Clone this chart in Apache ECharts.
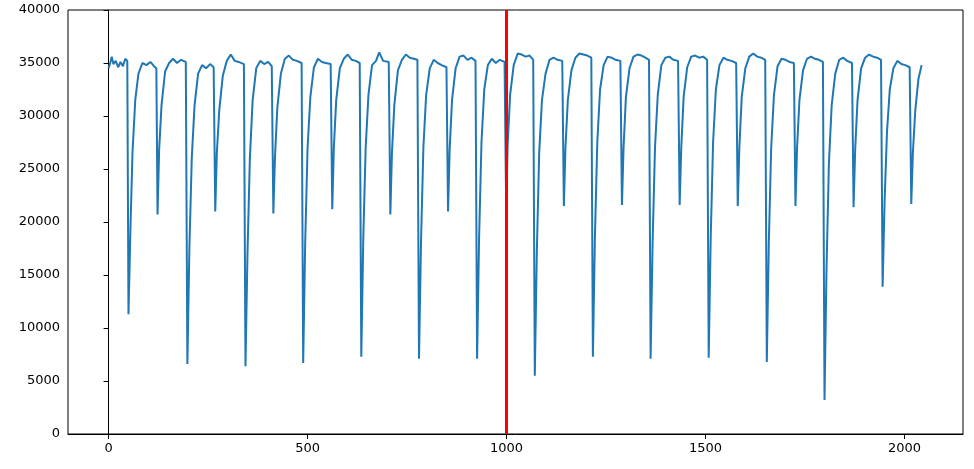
<!DOCTYPE html>
<html>
<head>
<meta charset="utf-8">
<script src="https://cdn.jsdelivr.net/npm/echarts@6/dist/echarts.min.js"></script>
<style>html,body{margin:0;padding:0;background:#fff}#main{width:974px;height:469px}</style>
</head>
<body>
<div id="main"></div>
<script>
// 信号数据
const xValues = [0,4,8,12,18,24,30,36,42,47,
50,55,60,67,75,85,95,105,114,120,
123,127,133,142,152,162,172,182,194,
198,203,209,216,225,235,245,255,264,
268,272,278,287,297,307,317,327,340,
344,349,355,362,371,381,391,401,410,
414,418,424,433,443,453,463,473,485,
489,494,500,507,516,526,536,546,558,
562,566,572,581,591,601,611,621,631,
635,640,646,653,662,672,680,690,704,
708,712,718,727,737,747,757,767,776,
780,785,791,798,807,817,827,837,849,
853,857,863,872,882,892,902,912,922,
926,931,937,944,953,963,973,983,995,
999,1003,1009,1018,1028,1038,1048,1058,1067,
1071,1076,1082,1089,1098,1108,1118,1128,1140,
1144,1148,1154,1163,1173,1183,1193,1203,1213,
1217,1222,1228,1235,1244,1254,1264,1274,1286,
1290,1294,1300,1309,1319,1329,1339,1349,1358,
1362,1367,1373,1380,1389,1399,1409,1419,1431,
1435,1439,1445,1454,1464,1474,1484,1494,1504,
1508,1513,1519,1526,1535,1545,1555,1565,1577,
1581,1585,1591,1600,1610,1620,1630,1640,1650,
1654,1659,1665,1672,1681,1691,1701,1711,1722,
1726,1730,1736,1745,1755,1765,1775,1785,1795,
1799,1804,1810,1817,1826,1836,1846,1856,1868,
1872,1876,1882,1891,1901,1911,1921,1931,1941,
1945,1950,1956,1963,1972,1982,1992,2002,2013,
2017,2021,2027,2035,2043];
const yValues = [34500,35000,35600,34900,35200,34600,35100,34700,35400,35200,
11300,19500,26500,31500,34000,35000,34800,35100,34700,34500,
20700,26800,31000,34200,35000,35400,35000,35300,35100,
6600,17500,26000,31000,34000,34800,34500,34900,34600,
21000,26500,30500,33800,35200,35800,35200,35100,34900,
6400,17000,26000,31500,34500,35200,34900,35100,34700,
20800,26000,30800,34000,35400,35700,35300,35200,35000,
6700,18000,27000,31800,34600,35400,35100,35000,34900,
21200,27000,31500,34500,35400,35800,35300,35200,35000,
7300,18500,27000,32000,34800,35200,36000,35200,35100,
20700,26500,31000,34300,35300,35800,35500,35400,35300,
7100,18000,27000,32000,34500,35300,35000,34800,34600,
21000,26800,31500,34500,35600,35700,35300,35500,35200,
7100,18500,27500,32500,34800,35400,35000,35300,35100,
21500,27500,32000,34800,35900,35800,35600,35700,35300,
5500,17000,26500,31500,34000,35300,35500,35300,35200,
21500,27000,31500,34300,35500,35900,35800,35700,35500,
7300,18500,27500,32500,34800,35600,35500,35300,35200,
21600,27000,31800,34500,35600,35800,35700,35500,35300,
7100,18000,27000,32000,34800,35500,35600,35300,35200,
21600,27000,31800,34600,35600,35700,35500,35600,35300,
7200,18500,27500,32500,34800,35500,35300,35200,35000,
21500,27000,31800,34500,35600,35900,35600,35500,35300,
6800,18000,27000,32000,34700,35400,35300,35100,35000,
21500,27000,31500,34300,35400,35600,35400,35300,35100,
3200,15500,25500,31000,34000,35300,35500,35200,35000,
21400,26800,31500,34500,35500,35800,35600,35500,35300,
13900,22000,28500,32500,34500,35200,34900,34800,34600,
21700,26500,30500,33500,34800];
const xTicks = [0, 500, 1000, 1500, 2000];
const markX = 1000;

let chart = echarts.init(document.getElementById('main'));
let data = xValues.map((x, i) => [x, yValues[i]]);
const font = {fontFamily: 'DejaVu Sans', fontSize: 13, color: '#000', formatter: v => String(v)};

chart.setOption({
  animation: false,
  grid: {left: 68, right: 11, top: 10, bottom: 35, show: true, borderColor: '#000', borderWidth: 1},
  xAxis: {
    type: 'value', min: -102, max: 2147,
    splitLine: {show: false},
    axisLine: {show: true, onZero: false, lineStyle: {color: '#000'}},
    axisTick: {show: true, inside: false, length: 5, lineStyle: {color: '#000'}, customValues: xTicks},
    axisLabel: Object.assign({customValues: xTicks, margin: 8}, font)
  },
  yAxis: {
    type: 'value', min: 0, max: 40000, interval: 5000,
    splitLine: {show: false},
    axisLine: {show: true, lineStyle: {color: '#000'}},
    axisTick: {show: true, inside: false, length: 5, lineStyle: {color: '#000'}},
    axisLabel: Object.assign({margin: 8}, font)
  },
  series: [{
    type: 'line', data: data, showSymbol: false,
    lineStyle: {color: '#1f77b4', width: 2},
    markLine: {
      silent: true, symbol: 'none', label: {show: false},
      lineStyle: {color: '#ff0000', width: 3, type: 'solid'},
      data: [{xAxis: markX}]
    }
  }]
});
</script>
</body>
</html>
